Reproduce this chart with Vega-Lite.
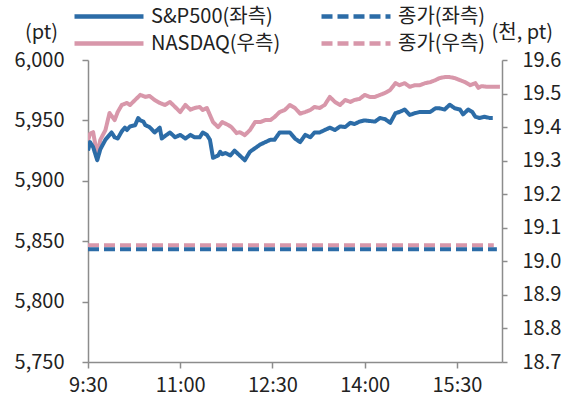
{
  "$schema": "https://vega.github.io/schema/vega-lite/v6.json",
  "width": 414,
  "height": 302,
  "autosize": {"type": "none"},
  "padding": {"left": 88, "top": 60, "right": 62, "bottom": 41},
  "background": "white",
  "config": {
    "view": {"stroke": null},
    "font": "Noto Sans CJK KR",
    "axis": {
      "grid": false,
      "domainColor": "#8c8c8c",
      "domainWidth": 1.5,
      "tickColor": "#8c8c8c",
      "tickWidth": 1.5,
      "tickSize": 6,
      "labelFont": "Noto Sans CJK KR",
      "labelFontSize": 20,
      "labelColor": "#222222",
      "titleFont": "Noto Sans CJK KR",
      "titleFontSize": 20,
      "titleFontWeight": "normal",
      "titleColor": "#222222"
    },
    "legend": {
      "labelFont": "Noto Sans CJK KR",
      "labelFontSize": 20,
      "labelColor": "#222222"
    }
  },
  "data": {
    "format": {"parse": {"t": "date:'%H:%M'"}},
    "values": [
      {"t": "09:30", "s": "S&P500(좌측)", "v": 5925},
      {"t": "09:32", "s": "S&P500(좌측)", "v": 5932},
      {"t": "09:35", "s": "S&P500(좌측)", "v": 5928},
      {"t": "09:39", "s": "S&P500(좌측)", "v": 5917},
      {"t": "09:42", "s": "S&P500(좌측)", "v": 5926},
      {"t": "09:47", "s": "S&P500(좌측)", "v": 5934},
      {"t": "09:51", "s": "S&P500(좌측)", "v": 5938},
      {"t": "09:53", "s": "S&P500(좌측)", "v": 5940},
      {"t": "09:56", "s": "S&P500(좌측)", "v": 5936},
      {"t": "09:59", "s": "S&P500(좌측)", "v": 5935},
      {"t": "10:03", "s": "S&P500(좌측)", "v": 5941},
      {"t": "10:06", "s": "S&P500(좌측)", "v": 5944},
      {"t": "10:08", "s": "S&P500(좌측)", "v": 5942},
      {"t": "10:11", "s": "S&P500(좌측)", "v": 5945},
      {"t": "10:16", "s": "S&P500(좌측)", "v": 5946},
      {"t": "10:19", "s": "S&P500(좌측)", "v": 5952},
      {"t": "10:21", "s": "S&P500(좌측)", "v": 5950},
      {"t": "10:24", "s": "S&P500(좌측)", "v": 5949},
      {"t": "10:26", "s": "S&P500(좌측)", "v": 5946},
      {"t": "10:30", "s": "S&P500(좌측)", "v": 5944.5},
      {"t": "10:35", "s": "S&P500(좌측)", "v": 5940},
      {"t": "10:40", "s": "S&P500(좌측)", "v": 5944},
      {"t": "10:42", "s": "S&P500(좌측)", "v": 5935},
      {"t": "10:45", "s": "S&P500(좌측)", "v": 5937},
      {"t": "10:50", "s": "S&P500(좌측)", "v": 5940},
      {"t": "10:55", "s": "S&P500(좌측)", "v": 5936},
      {"t": "11:00", "s": "S&P500(좌측)", "v": 5938},
      {"t": "11:05", "s": "S&P500(좌측)", "v": 5935},
      {"t": "11:10", "s": "S&P500(좌측)", "v": 5938},
      {"t": "11:14", "s": "S&P500(좌측)", "v": 5936},
      {"t": "11:19", "s": "S&P500(좌측)", "v": 5936},
      {"t": "11:22", "s": "S&P500(좌측)", "v": 5940},
      {"t": "11:26", "s": "S&P500(좌측)", "v": 5938},
      {"t": "11:29", "s": "S&P500(좌측)", "v": 5934},
      {"t": "11:32", "s": "S&P500(좌측)", "v": 5919},
      {"t": "11:37", "s": "S&P500(좌측)", "v": 5921},
      {"t": "11:39", "s": "S&P500(좌측)", "v": 5924},
      {"t": "11:41", "s": "S&P500(좌측)", "v": 5922},
      {"t": "11:44", "s": "S&P500(좌측)", "v": 5923},
      {"t": "11:49", "s": "S&P500(좌측)", "v": 5921},
      {"t": "11:53", "s": "S&P500(좌측)", "v": 5925},
      {"t": "11:58", "s": "S&P500(좌측)", "v": 5921},
      {"t": "12:03", "s": "S&P500(좌측)", "v": 5917},
      {"t": "12:08", "s": "S&P500(좌측)", "v": 5924},
      {"t": "12:13", "s": "S&P500(좌측)", "v": 5927},
      {"t": "12:18", "s": "S&P500(좌측)", "v": 5930},
      {"t": "12:23", "s": "S&P500(좌측)", "v": 5932},
      {"t": "12:28", "s": "S&P500(좌측)", "v": 5934},
      {"t": "12:32", "s": "S&P500(좌측)", "v": 5934},
      {"t": "12:37", "s": "S&P500(좌측)", "v": 5940},
      {"t": "12:42", "s": "S&P500(좌측)", "v": 5940},
      {"t": "12:47", "s": "S&P500(좌측)", "v": 5940},
      {"t": "12:52", "s": "S&P500(좌측)", "v": 5935},
      {"t": "12:57", "s": "S&P500(좌측)", "v": 5932},
      {"t": "13:02", "s": "S&P500(좌측)", "v": 5938},
      {"t": "13:07", "s": "S&P500(좌측)", "v": 5936},
      {"t": "13:11", "s": "S&P500(좌측)", "v": 5940},
      {"t": "13:16", "s": "S&P500(좌측)", "v": 5940},
      {"t": "13:21", "s": "S&P500(좌측)", "v": 5942},
      {"t": "13:26", "s": "S&P500(좌측)", "v": 5944},
      {"t": "13:31", "s": "S&P500(좌측)", "v": 5942},
      {"t": "13:36", "s": "S&P500(좌측)", "v": 5945},
      {"t": "13:41", "s": "S&P500(좌측)", "v": 5944.5},
      {"t": "13:46", "s": "S&P500(좌측)", "v": 5948},
      {"t": "13:50", "s": "S&P500(좌측)", "v": 5947},
      {"t": "13:55", "s": "S&P500(좌측)", "v": 5949},
      {"t": "14:00", "s": "S&P500(좌측)", "v": 5950},
      {"t": "14:05", "s": "S&P500(좌측)", "v": 5949.5},
      {"t": "14:10", "s": "S&P500(좌측)", "v": 5949},
      {"t": "14:15", "s": "S&P500(좌측)", "v": 5952},
      {"t": "14:20", "s": "S&P500(좌측)", "v": 5951},
      {"t": "14:25", "s": "S&P500(좌측)", "v": 5948},
      {"t": "14:30", "s": "S&P500(좌측)", "v": 5956},
      {"t": "14:34", "s": "S&P500(좌측)", "v": 5957},
      {"t": "14:39", "s": "S&P500(좌측)", "v": 5959},
      {"t": "14:44", "s": "S&P500(좌측)", "v": 5954.5},
      {"t": "14:49", "s": "S&P500(좌측)", "v": 5956},
      {"t": "14:54", "s": "S&P500(좌측)", "v": 5957},
      {"t": "14:59", "s": "S&P500(좌측)", "v": 5957},
      {"t": "15:04", "s": "S&P500(좌측)", "v": 5957},
      {"t": "15:09", "s": "S&P500(좌측)", "v": 5960},
      {"t": "15:13", "s": "S&P500(좌측)", "v": 5960},
      {"t": "15:18", "s": "S&P500(좌측)", "v": 5959},
      {"t": "15:23", "s": "S&P500(좌측)", "v": 5963},
      {"t": "15:28", "s": "S&P500(좌측)", "v": 5960},
      {"t": "15:33", "s": "S&P500(좌측)", "v": 5959},
      {"t": "15:36", "s": "S&P500(좌측)", "v": 5955},
      {"t": "15:41", "s": "S&P500(좌측)", "v": 5959},
      {"t": "15:45", "s": "S&P500(좌측)", "v": 5957},
      {"t": "15:48", "s": "S&P500(좌측)", "v": 5953},
      {"t": "15:52", "s": "S&P500(좌측)", "v": 5952},
      {"t": "15:57", "s": "S&P500(좌측)", "v": 5953},
      {"t": "16:02", "s": "S&P500(좌측)", "v": 5952},
      {"t": "16:05", "s": "S&P500(좌측)", "v": 5952},
      {"t": "09:30", "s": "종가(좌측)", "v": 5843.3},
      {"t": "16:09", "s": "종가(좌측)", "v": 5843.3},
      {"t": "09:30", "s": "NASDAQ(우측)", "v": 19.36},
      {"t": "09:32", "s": "NASDAQ(우측)", "v": 19.38},
      {"t": "09:35", "s": "NASDAQ(우측)", "v": 19.385},
      {"t": "09:39", "s": "NASDAQ(우측)", "v": 19.317},
      {"t": "09:42", "s": "NASDAQ(우측)", "v": 19.362},
      {"t": "09:47", "s": "NASDAQ(우측)", "v": 19.391},
      {"t": "09:51", "s": "NASDAQ(우측)", "v": 19.442},
      {"t": "09:56", "s": "NASDAQ(우측)", "v": 19.421},
      {"t": "09:59", "s": "NASDAQ(우측)", "v": 19.445},
      {"t": "10:03", "s": "NASDAQ(우측)", "v": 19.466},
      {"t": "10:08", "s": "NASDAQ(우측)", "v": 19.472},
      {"t": "10:11", "s": "NASDAQ(우측)", "v": 19.466},
      {"t": "10:16", "s": "NASDAQ(우측)", "v": 19.481},
      {"t": "10:21", "s": "NASDAQ(우측)", "v": 19.496},
      {"t": "10:26", "s": "NASDAQ(우측)", "v": 19.49},
      {"t": "10:30", "s": "NASDAQ(우측)", "v": 19.493},
      {"t": "10:35", "s": "NASDAQ(우측)", "v": 19.481},
      {"t": "10:40", "s": "NASDAQ(우측)", "v": 19.472},
      {"t": "10:45", "s": "NASDAQ(우측)", "v": 19.466},
      {"t": "10:50", "s": "NASDAQ(우측)", "v": 19.475},
      {"t": "10:55", "s": "NASDAQ(우측)", "v": 19.46},
      {"t": "11:00", "s": "NASDAQ(우측)", "v": 19.445},
      {"t": "11:05", "s": "NASDAQ(우측)", "v": 19.466},
      {"t": "11:10", "s": "NASDAQ(우측)", "v": 19.452},
      {"t": "11:14", "s": "NASDAQ(우측)", "v": 19.457},
      {"t": "11:19", "s": "NASDAQ(우측)", "v": 19.46},
      {"t": "11:22", "s": "NASDAQ(우측)", "v": 19.451},
      {"t": "11:26", "s": "NASDAQ(우측)", "v": 19.457},
      {"t": "11:29", "s": "NASDAQ(우측)", "v": 19.436},
      {"t": "11:32", "s": "NASDAQ(우측)", "v": 19.415},
      {"t": "11:37", "s": "NASDAQ(우측)", "v": 19.4},
      {"t": "11:41", "s": "NASDAQ(우측)", "v": 19.415},
      {"t": "11:47", "s": "NASDAQ(우측)", "v": 19.406},
      {"t": "11:50", "s": "NASDAQ(우측)", "v": 19.4},
      {"t": "11:55", "s": "NASDAQ(우측)", "v": 19.382},
      {"t": "11:58", "s": "NASDAQ(우측)", "v": 19.385},
      {"t": "12:03", "s": "NASDAQ(우측)", "v": 19.376},
      {"t": "12:08", "s": "NASDAQ(우측)", "v": 19.391},
      {"t": "12:13", "s": "NASDAQ(우측)", "v": 19.415},
      {"t": "12:18", "s": "NASDAQ(우측)", "v": 19.415},
      {"t": "12:23", "s": "NASDAQ(우측)", "v": 19.421},
      {"t": "12:28", "s": "NASDAQ(우측)", "v": 19.421},
      {"t": "12:32", "s": "NASDAQ(우측)", "v": 19.43},
      {"t": "12:37", "s": "NASDAQ(우측)", "v": 19.445},
      {"t": "12:42", "s": "NASDAQ(우측)", "v": 19.451},
      {"t": "12:47", "s": "NASDAQ(우측)", "v": 19.466},
      {"t": "12:52", "s": "NASDAQ(우측)", "v": 19.457},
      {"t": "12:57", "s": "NASDAQ(우측)", "v": 19.44},
      {"t": "13:02", "s": "NASDAQ(우측)", "v": 19.445},
      {"t": "13:07", "s": "NASDAQ(우측)", "v": 19.451},
      {"t": "13:11", "s": "NASDAQ(우측)", "v": 19.46},
      {"t": "13:16", "s": "NASDAQ(우측)", "v": 19.457},
      {"t": "13:21", "s": "NASDAQ(우측)", "v": 19.466},
      {"t": "13:26", "s": "NASDAQ(우측)", "v": 19.49},
      {"t": "13:31", "s": "NASDAQ(우측)", "v": 19.475},
      {"t": "13:36", "s": "NASDAQ(우측)", "v": 19.466},
      {"t": "13:41", "s": "NASDAQ(우측)", "v": 19.481},
      {"t": "13:46", "s": "NASDAQ(우측)", "v": 19.475},
      {"t": "13:50", "s": "NASDAQ(우측)", "v": 19.481},
      {"t": "13:55", "s": "NASDAQ(우측)", "v": 19.484},
      {"t": "14:00", "s": "NASDAQ(우측)", "v": 19.496},
      {"t": "14:05", "s": "NASDAQ(우측)", "v": 19.49},
      {"t": "14:10", "s": "NASDAQ(우측)", "v": 19.49},
      {"t": "14:15", "s": "NASDAQ(우측)", "v": 19.496},
      {"t": "14:20", "s": "NASDAQ(우측)", "v": 19.502},
      {"t": "14:25", "s": "NASDAQ(우측)", "v": 19.511},
      {"t": "14:30", "s": "NASDAQ(우측)", "v": 19.531},
      {"t": "14:34", "s": "NASDAQ(우측)", "v": 19.525},
      {"t": "14:39", "s": "NASDAQ(우측)", "v": 19.531},
      {"t": "14:44", "s": "NASDAQ(우측)", "v": 19.52},
      {"t": "14:49", "s": "NASDAQ(우측)", "v": 19.525},
      {"t": "14:54", "s": "NASDAQ(우측)", "v": 19.525},
      {"t": "14:59", "s": "NASDAQ(우측)", "v": 19.531},
      {"t": "15:04", "s": "NASDAQ(우측)", "v": 19.534},
      {"t": "15:09", "s": "NASDAQ(우측)", "v": 19.54},
      {"t": "15:13", "s": "NASDAQ(우측)", "v": 19.546},
      {"t": "15:18", "s": "NASDAQ(우측)", "v": 19.549},
      {"t": "15:23", "s": "NASDAQ(우측)", "v": 19.549},
      {"t": "15:28", "s": "NASDAQ(우측)", "v": 19.546},
      {"t": "15:33", "s": "NASDAQ(우측)", "v": 19.54},
      {"t": "15:38", "s": "NASDAQ(우측)", "v": 19.534},
      {"t": "15:43", "s": "NASDAQ(우측)", "v": 19.525},
      {"t": "15:48", "s": "NASDAQ(우측)", "v": 19.531},
      {"t": "15:51", "s": "NASDAQ(우측)", "v": 19.517},
      {"t": "15:54", "s": "NASDAQ(우측)", "v": 19.522},
      {"t": "16:00", "s": "NASDAQ(우측)", "v": 19.52},
      {"t": "16:12", "s": "NASDAQ(우측)", "v": 19.52},
      {"t": "09:30", "s": "종가(우측)", "v": 19.048},
      {"t": "16:06", "s": "종가(우측)", "v": 19.048}
    ]
  },
  "encoding": {
    "x": {
      "field": "t",
      "type": "temporal",
      "title": null,
      "scale": {
        "domain": [
          {"year": 1900, "month": 1, "date": 1, "hours": 9, "minutes": 30},
          {"year": 1900, "month": 1, "date": 1, "hours": 16, "minutes": 14}
        ]
      },
      "axis": {
        "values": [
          {"year": 1900, "month": 1, "date": 1, "hours": 9, "minutes": 30},
          {"year": 1900, "month": 1, "date": 1, "hours": 11, "minutes": 0},
          {"year": 1900, "month": 1, "date": 1, "hours": 12, "minutes": 30},
          {"year": 1900, "month": 1, "date": 1, "hours": 14, "minutes": 0},
          {"year": 1900, "month": 1, "date": 1, "hours": 15, "minutes": 30}
        ],
        "format": "%-H:%M",
        "labelPadding": 7,
        "labelFlush": false
      }
    },
    "color": {
      "field": "s",
      "type": "nominal",
      "scale": {
        "domain": ["S&P500(좌측)", "NASDAQ(우측)", "종가(좌측)", "종가(우측)"],
        "range": ["#2c6ca7", "#d897aa", "#2c6ca7", "#d897aa"]
      },
      "legend": {
        "title": null,
        "orient": "none",
        "legendX": -16,
        "legendY": -57,
        "columns": 2,
        "columnPadding": 38,
        "rowPadding": 0,
        "clipHeight": 27,
        "padding": 0,
        "symbolType": "stroke",
        "symbolSize": 4761,
        "symbolStrokeWidth": 4.5,
        "symbolOffset": 0,
        "labelOffset": 5
      }
    },
    "strokeDash": {
      "field": "s",
      "type": "nominal",
      "scale": {
        "domain": ["S&P500(좌측)", "NASDAQ(우측)", "종가(좌측)", "종가(우측)"],
        "range": [[1, 0], [1, 0], [11, 5], [11, 5]]
      },
      "legend": {
        "title": null,
        "orient": "none",
        "legendX": -16,
        "legendY": -57,
        "columns": 2,
        "columnPadding": 38,
        "rowPadding": 0,
        "clipHeight": 27,
        "padding": 0,
        "symbolType": "stroke",
        "symbolSize": 4761,
        "symbolStrokeWidth": 4.5,
        "symbolOffset": 0,
        "labelOffset": 5
      }
    }
  },
  "layer": [
    {
      "transform": [{"filter": {"field": "s", "oneOf": ["NASDAQ(우측)", "종가(우측)"]}}],
      "mark": {"type": "line", "strokeWidth": 4, "strokeJoin": "round", "clip": true},
      "encoding": {
        "y": {
          "field": "v",
          "type": "quantitative",
          "scale": {"domain": [18.7, 19.6], "nice": false, "zero": false},
          "axis": {
            "orient": "right",
            "values": [18.7, 18.8, 18.9, 19.0, 19.1, 19.2, 19.3, 19.4, 19.5, 19.6],
            "format": ".1f",
            "tickSize": 5,
            "labelPadding": 15,
            "title": "(천, pt)",
            "titleAngle": 0,
            "titleAlign": "left",
            "titleBaseline": "middle",
            "titleX": -11,
            "titleY": -28
          }
        }
      }
    },
    {
      "transform": [{"filter": {"field": "s", "oneOf": ["S&P500(좌측)", "종가(좌측)"]}}],
      "mark": {"type": "line", "strokeWidth": 4, "strokeJoin": "round", "clip": true},
      "encoding": {
        "y": {
          "field": "v",
          "type": "quantitative",
          "scale": {"domain": [5750, 6000], "nice": false, "zero": false},
          "axis": {
            "orient": "left",
            "values": [5750, 5800, 5850, 5900, 5950, 6000],
            "format": ",d",
            "tickSize": 6,
            "labelPadding": 18,
            "title": "(pt)",
            "titleAngle": 0,
            "titleAlign": "center",
            "titleBaseline": "middle",
            "titleX": -47,
            "titleY": -28
          }
        }
      }
    }
  ],
  "resolve": {"scale": {"y": "independent"}}
}
